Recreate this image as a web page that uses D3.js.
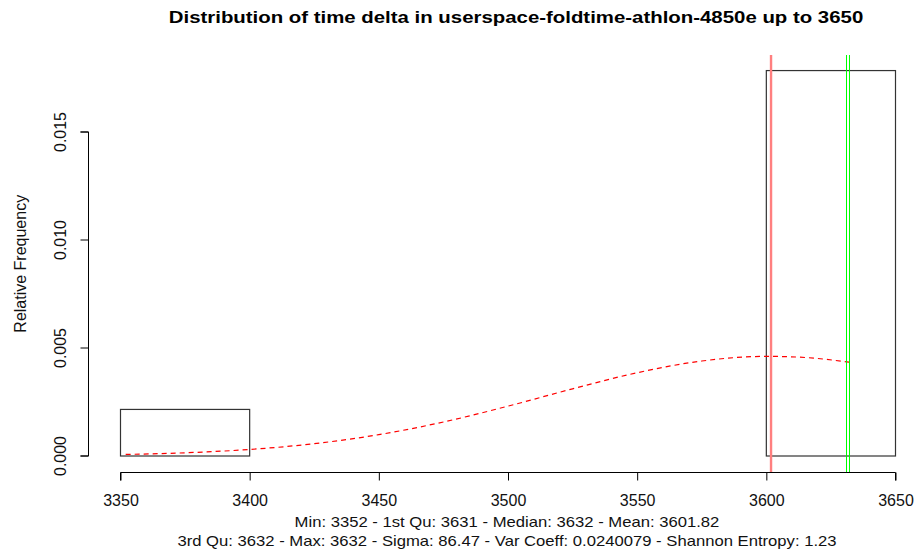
<!DOCTYPE html>
<html>
<head>
<meta charset="utf-8">
<script src="https://cdn.jsdelivr.net/npm/d3@7"></script>
<style>
  body { margin: 0; background: #fff; }
  text { font-family: "Liberation Sans", Arial, sans-serif; }
</style>
</head>
<body>
<div id="chart"></div>
<script>
var width = 918,
  height = 557;

// histogram bins (edges) and relative frequency (density) per bin
const binStarts = [3350, 3400, 3450, 3500, 3550, 3600];
const binEnds = [3400, 3450, 3500, 3550, 3600, 3650];
const density = [0.002156, 0, 0, 0, 0, 0.017844];

// dashed normal fit
const curveX = [3352, 3375, 3400, 3425, 3450, 3475, 3500, 3525, 3550, 3575, 3600, 3615, 3632];
const curveY = [0.000071, 0.000148, 0.000303, 0.00057, 0.000988, 0.001574, 0.002307, 0.00311, 0.003855, 0.004397, 0.004613, 0.004561, 0.004341];

// marker lines
const meanLine = [3601.82];
const quartLines = [3631, 3632];

const xTicks = [3350, 3400, 3450, 3500, 3550, 3600, 3650];
const yTicks = [0, 0.005, 0.01, 0.015];

const title = "Distribution of time delta in userspace-foldtime-athlon-4850e up to 3650";
const statLines = [
  "Min: 3352 - 1st Qu: 3631 - Median: 3632 - Mean: 3601.82",
  "3rd Qu: 3632 - Max: 3632 - Sigma: 86.47 - Var Coeff: 0.0240079 - Shannon Entropy: 1.23"
];

var x = d3.scaleLinear().domain([3350, 3650]).range([120.5, 895.5]);
var y = d3.scaleLinear().domain([0, 0.015]).range([456, 132]);
var plotTop = 55,
  plotBottom = 472.5;

var svg = d3.select("#chart")
  .append("svg")
  .attr("width", width)
  .attr("height", height);

// histogram bars
svg.append("g")
  .selectAll("rect")
  .data(binStarts)
  .enter()
  .append("rect")
  .attr("x", function (d) { return x(d); })
  .attr("y", function (d, i) { return y(density[i]); })
  .attr("width", function (d, i) { return x(binEnds[i]) - x(d); })
  .attr("height", function (d, i) { return y(0) - y(density[i]); })
  .attr("fill", "none")
  .attr("stroke", "#333")
  .attr("stroke-width", 1.2);

// normal curve
var line = d3.line()
  .x(function (d, i) { return x(d); })
  .y(function (d, i) { return y(curveY[i]); })
  .curve(d3.curveMonotoneX);
svg.append("path")
  .attr("d", line(curveX))
  .attr("fill", "none")
  .attr("stroke", "#ff0000")
  .attr("stroke-width", 1.2)
  .attr("stroke-dasharray", "5,4");

// mean / quartile lines
svg.selectAll(".mean")
  .data(meanLine)
  .enter()
  .append("line")
  .attr("x1", function (d) { return x(d); })
  .attr("x2", function (d) { return x(d); })
  .attr("y1", plotTop)
  .attr("y2", plotBottom)
  .attr("stroke", "#ff7f7f")
  .attr("stroke-width", 2.4);
svg.selectAll(".quart")
  .data(quartLines)
  .enter()
  .append("line")
  .attr("x1", function (d) { return x(d); })
  .attr("x2", function (d) { return x(d); })
  .attr("y1", plotTop)
  .attr("y2", plotBottom)
  .attr("stroke", "#00ff00")
  .attr("stroke-width", 1)
  .attr("shape-rendering", "crispEdges");

// x axis
var xAxis = d3.axisBottom(x).tickValues(xTicks).tickSize(8).tickPadding(14).tickFormat(d3.format("d"));
var gx = svg.append("g").attr("transform", "translate(0," + plotBottom + ")").call(xAxis);
gx.select(".domain").attr("d", "M" + x(3350) + ",8V0H" + x(3650) + "V8");
gx.selectAll("text").style("font-size", "16px").attr("fill", "#111");

// y axis
var yAxis = d3.axisLeft(y).tickValues(yTicks).tickSize(8).tickPadding(0).tickFormat(d3.format(".3f"));
var gy = svg.append("g").attr("transform", "translate(88.5,0)").call(yAxis);
gy.select(".domain").attr("d", "M-8," + y(0) + "H0V" + y(0.015) + "H-8");
gy.selectAll("text")
  .style("font-size", "16px")
  .attr("fill", "#111")
  .attr("text-anchor", "middle")
  .attr("x", 0)
  .attr("dy", 0)
  .attr("transform", function (d) { return "translate(-23," + y(d) + ") rotate(-90)"; })
  .attr("y", 0);
gy.selectAll(".tick").attr("transform", null);
gy.selectAll(".tick line").attr("transform", function (d) { return "translate(0," + y(d) + ")"; });

// y label
svg.append("text")
  .attr("transform", "translate(26," + (plotTop + plotBottom) / 2 + ") rotate(-90)")
  .attr("text-anchor", "middle")
  .style("font-size", "16px")
  .attr("fill", "#111")
  .text("Relative Frequency");

// title (the reference text is a bit wider than it is tall)
svg.append("text")
  .attr("transform", "translate(516,23) scale(1.2,1)")
  .attr("text-anchor", "middle")
  .style("font-size", "17px")
  .style("font-weight", "bold")
  .text(title);

// stats below axis
svg.selectAll(".stat")
  .data(statLines)
  .enter()
  .append("text")
  .attr("transform", function (d, i) { return "translate(507," + (527 + 19 * i) + ") scale(1.19,1)"; })
  .attr("text-anchor", "middle")
  .style("font-size", "14px")
  .attr("fill", "#111")
  .text(function (d) { return d; });
</script>
</body>
</html>
